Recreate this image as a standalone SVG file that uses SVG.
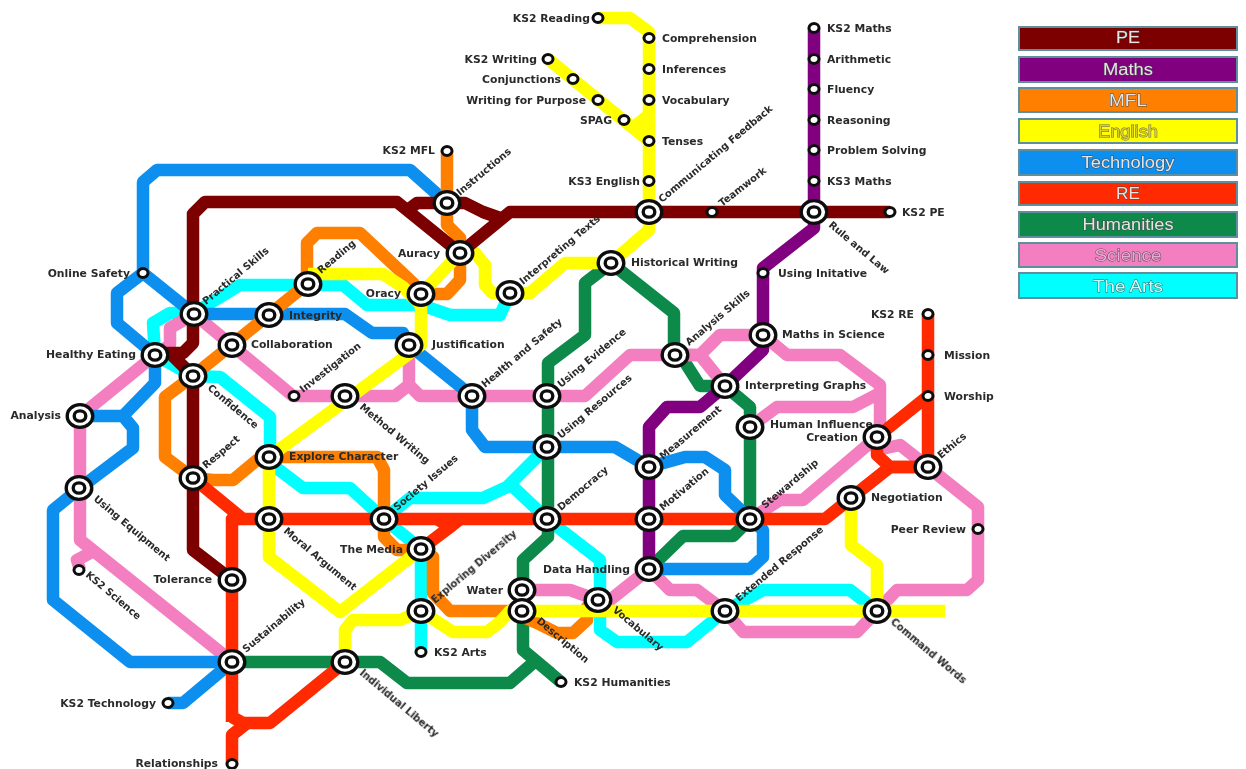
<svg xmlns="http://www.w3.org/2000/svg" width="1246" height="769" viewBox="0 0 1246 769">
<style>
.l{fill:none;stroke-width:12.5;stroke-linejoin:round;stroke-linecap:butt}
.pe{stroke:#7b0000}.ma{stroke:#800080}.mf{stroke:#ff7f00}.en{stroke:#ffff00}.te{stroke:#0a8fef}.re{stroke:#ff2a00}.hu{stroke:#0a8a4a}.sc{stroke:#f47fc0}.ar{stroke:#00ffff}
text{font-family:"DejaVu Sans","Liberation Sans",sans-serif;font-size:10.8px;font-weight:700;fill:#2a2a2a}
text[transform]{font-size:10px}
.e{text-anchor:end}
.lg rect{stroke:#5f8f9f;stroke-width:2}
.lg text{font-family:"Liberation Sans",Arial,sans-serif;font-size:16px;font-weight:400;text-anchor:middle;fill:#e4e4e4;stroke:#4a4a4a;stroke-width:.9;paint-order:stroke}
</style>
<defs>
<filter id="soft" x="-2%" y="-2%" width="104%" height="104%"><feGaussianBlur stdDeviation="0.55"/></filter>
<g id="b"><ellipse rx="12.8" ry="11.4" fill="#fff" stroke="#111" stroke-width="3.4"/><ellipse rx="5.8" ry="5.1" fill="#fff" stroke="#111" stroke-width="3.4"/></g>
<g id="s"><ellipse rx="5" ry="4.4" fill="#fff" stroke="#111" stroke-width="3"/></g>
</defs>
<rect width="1246" height="769" fill="#fff"/>
<g filter="url(#soft)">
<g id="connectors">
<path class="l ar" d="M421 652V549L384 519L350 488H303L270 463V417L220 377L193 376L155 355L153 323L170 313H194L240 285H343L367 305H421L450 315H500L510 293"/>
<path class="l ar" d="M384 519L410 498H483L507 487L547 447"/>
<path class="l ar" d="M507 481L547 519L600 560V630L617 642H687L725 611L763 590H850L877 611"/>
<path class="l hu" d="M611 263L585 283V335L548 363V519V537L523 560V650L561 682"/>
<path class="l hu" d="M533 663L510 683H407L380 662H232"/>
<path class="l hu" d="M611 263L674 313V345L700 386H725L750 407V519L733 536H683L649 569"/>
<path class="l sc" d="M80 570L77 560L90 553M80 416V540L220 652L232 662"/>
<path class="l sc" d="M80 416L155 355L170 345V328L194 314L293 396H345H395L409 385V345V385L420 396H585L630 355H675H700L720 335H763L787 355H840L880 385V437"/>
<path class="l sc" d="M675 355H700L725 386"/>
<path class="l sc" d="M880 393L853 407H777L750 427"/>
<path class="l sc" d="M877 437L803 500H780L750 519"/>
<path class="l sc" d="M877 450L900 445L928 467L978 507V580L967 590H897L877 611L857 632H743L725 611L697 590H670L649 569L610 600H598L570 590H522"/>
<path class="l te" d="M447 203L410 170H157L143 182V273L194 314H345L372 333H403L409 345L472 396V430L485 447H615L649 467L685 457H705L725 470V495L750 519L763 530V557L750 569H649"/>
<path class="l te" d="M143 273L117 293V323L155 355V383L123 416H80H123L133 428V448L80 488L53 510V600L130 662H232L183 703H168"/>
<path class="l mf" d="M447 151V225L460 238V280L447 294H421"/>
<path class="l mf" d="M421 294L413 283L360 233H317L307 243V284L193 376L165 397V457L193 478L213 480H233L257 460L269 457H377L384 470V537L397 550H421L433 557V593L450 611H510L537 623L557 633H573L587 620V607L598 600"/>
<path class="l en" d="M598 18H630L649 32V230L611 263H565L530 293H492L485 285V265L475 253H460"/>
<path class="l en" d="M548 59L649 141M630 130L649 115"/>
<path class="l en" d="M460 253L421 294V345L269 457V557L340 612L421 549"/>
<path class="l en" d="M308 274H383L403 287L421 305"/>
<path class="l en" d="M345 662V630L353 620H400L421 611L453 632H487L500 622L510 611H945"/>
<path class="l en" d="M851 498V545L877 565V611"/>
<path class="l re" d="M928 314V467H890L877 455V437L928 396"/>
<path class="l re" d="M928 467H890L851 498L825 519H232V722"/>
<path class="l re" d="M193 478L243 519"/>
<path class="l re" d="M232 717L243 723H270L345 662"/>
<path class="l re" d="M247 723L232 735V764"/>
<path class="l re" d="M437 519L450 527L421 549M450 527L460 519"/>
<path class="l ma" d="M814 28V228L763 268V350L725 386L700 407H667L649 427V569"/>
<path class="l pe" d="M890 212H510L460 253L397 202H205L193 214V343L183 353H155"/>
<path class="l pe" d="M170 353L193 376V550L232 580"/>
<path class="l pe" d="M405 212L417 203H447H465L483 212L500 218"/>
</g>
<g id="n1"><use href="#s" x="598" y="18"/><text class="e" x="590" y="22">KS2 Reading</text></g>
<g id="n2"><use href="#s" x="649" y="38"/><text x="662" y="42">Comprehension</text></g>
<g id="n3"><use href="#s" x="649" y="69"/><text x="662" y="73">Inferences</text></g>
<g id="n4"><use href="#s" x="649" y="100"/><text x="662" y="104">Vocabulary</text></g>
<g id="n5"><use href="#s" x="649" y="141"/><text x="662" y="145">Tenses</text></g>
<g id="n6"><use href="#s" x="649" y="181"/><text class="e" x="640" y="185">KS3 English</text></g>
<g id="n7"><use href="#s" x="548" y="59"/><text class="e" x="537" y="63">KS2 Writing</text></g>
<g id="n8"><use href="#s" x="573" y="79"/><text class="e" x="561" y="83">Conjunctions</text></g>
<g id="n9"><use href="#s" x="598" y="100"/><text class="e" x="586" y="104">Writing for Purpose</text></g>
<g id="n10"><use href="#s" x="624" y="120"/><text class="e" x="612" y="124">SPAG</text></g>
<g id="n11"><use href="#s" x="814" y="28"/><text x="827" y="32">KS2 Maths</text></g>
<g id="n12"><use href="#s" x="814" y="59"/><text x="827" y="63">Arithmetic</text></g>
<g id="n13"><use href="#s" x="814" y="89"/><text x="827" y="93">Fluency</text></g>
<g id="n14"><use href="#s" x="814" y="120"/><text x="827" y="124">Reasoning</text></g>
<g id="n15"><use href="#s" x="814" y="150"/><text x="827" y="154">Problem Solving</text></g>
<g id="n16"><use href="#s" x="814" y="181"/><text x="827" y="185">KS3 Maths</text></g>
<g id="n17"><use href="#s" x="890" y="212"/><text x="902" y="216">KS2 PE</text></g>
<g id="n18"><use href="#s" x="712" y="212"/><text transform="translate(722 207) rotate(-38)">Teamwork</text></g>
<g id="n19"><use href="#s" x="447" y="151"/><text class="e" x="435" y="154">KS2 MFL</text></g>
<g id="n20"><use href="#s" x="143" y="273"/><text class="e" x="130" y="277">Online Safety</text></g>
<g id="n21"><use href="#s" x="294" y="396"/><text transform="translate(303 393) rotate(-38)">Investigation</text></g>
<g id="n22"><use href="#s" x="763" y="273"/><text x="778" y="277">Using Initative</text></g>
<g id="n23"><use href="#s" x="928" y="314"/><text class="e" x="914" y="318">KS2 RE</text></g>
<g id="n24"><use href="#s" x="928" y="355"/><text x="944" y="359">Mission</text></g>
<g id="n25"><use href="#s" x="928" y="396"/><text x="944" y="400">Worship</text></g>
<g id="n26"><use href="#s" x="978" y="529"/><text class="e" x="966" y="533">Peer Review</text></g>
<g id="n27"><use href="#s" x="79" y="570"/><text transform="translate(85 576) rotate(40)">KS2 Science</text></g>
<g id="n28"><use href="#s" x="168" y="703"/><text class="e" x="156" y="707">KS2 Technology</text></g>
<g id="n29"><use href="#s" x="232" y="764"/><text class="e" x="218" y="767">Relationships</text></g>
<g id="n30"><use href="#s" x="421" y="652"/><text x="434" y="656">KS2 Arts</text></g>
<g id="n31"><use href="#s" x="561" y="682"/><text x="574" y="686">KS2 Humanities</text></g>
<g id="n32"><use href="#b" x="447" y="203"/><text transform="translate(460 196) rotate(-40)">Instructions</text></g>
<g id="n33"><use href="#b" x="460" y="253"/><text class="e" x="440" y="257">Auracy</text></g>
<g id="n34"><use href="#b" x="421" y="294"/><text class="e" x="401" y="297">Oracy</text></g>
<g id="n35"><use href="#b" x="308" y="284"/><text transform="translate(321 274) rotate(-40)">Reading</text></g>
<g id="n36"><use href="#b" x="194" y="314"/><text transform="translate(206 305) rotate(-40)">Practical Skills</text></g>
<g id="n37"><use href="#b" x="269" y="315"/><text x="289" y="319">Integrity</text></g>
<g id="n38"><use href="#b" x="232" y="345"/><text x="251" y="348">Collaboration</text></g>
<g id="n39"><use href="#b" x="155" y="355"/><text class="e" x="136" y="358">Healthy Eating</text></g>
<g id="n40"><use href="#b" x="193" y="376"/><text transform="translate(207 389) rotate(40)">Confidence</text></g>
<g id="n41"><use href="#b" x="409" y="345"/><text x="432" y="348">Justification</text></g>
<g id="n42"><use href="#b" x="345" y="396"/><text transform="translate(359 408) rotate(40)">Method Writing</text></g>
<g id="n43"><use href="#b" x="472" y="396"/><text transform="translate(485 388) rotate(-40)">Health and Safety</text></g>
<g id="n44"><use href="#b" x="547" y="396"/><text transform="translate(561 388) rotate(-40)">Using Evidence</text></g>
<g id="n45"><use href="#b" x="547" y="447"/><text transform="translate(561 439) rotate(-40)">Using Resources</text></g>
<g id="n46"><use href="#b" x="80" y="416"/><text class="e" x="61" y="419">Analysis</text></g>
<g id="n47"><use href="#b" x="193" y="478"/><text transform="translate(206 469) rotate(-40)">Respect</text></g>
<g id="n48"><use href="#b" x="269" y="457"/><text x="289" y="460">Explore Character</text></g>
<g id="n49"><use href="#b" x="79" y="488"/><text transform="translate(93 500) rotate(40)">Using Equipment</text></g>
<g id="n50"><use href="#b" x="269" y="519"/><text transform="translate(283 532) rotate(40)">Moral Argument</text></g>
<g id="n51"><use href="#b" x="384" y="519"/><text transform="translate(397 511) rotate(-40)">Society Issues</text></g>
<g id="n52"><use href="#b" x="421" y="549"/><text class="e" x="403" y="553">The Media</text></g>
<g id="n53"><use href="#b" x="547" y="519"/><text transform="translate(561 511) rotate(-40)">Democracy</text></g>
<g id="n54"><use href="#b" x="649" y="467"/><text transform="translate(663 460) rotate(-40)">Measurement</text></g>
<g id="n55"><use href="#b" x="649" y="519"/><text transform="translate(663 511) rotate(-40)">Motivation</text></g>
<g id="n56"><use href="#b" x="750" y="519"/><text transform="translate(765 509) rotate(-40)">Stewardship</text></g>
<g id="n57"><use href="#b" x="649" y="569"/><text class="e" x="630" y="573">Data Handling</text></g>
<g id="n58"><use href="#b" x="522" y="590"/><text class="e" x="503" y="594">Water</text></g>
<g id="n59"><use href="#b" x="522" y="611"/><text transform="translate(536 622) rotate(40)">Description</text></g>
<g id="n60"><use href="#b" x="598" y="600"/><text transform="translate(612 611) rotate(40)">Vocabulary</text></g>
<g id="n61"><use href="#b" x="725" y="611"/><text transform="translate(739 602) rotate(-40)">Extended Response</text></g>
<g id="n62"><use href="#b" x="877" y="611"/><text transform="translate(890 623) rotate(40)">Command Words</text></g>
<g id="n63"><use href="#b" x="421" y="611"/><text transform="translate(435 604) rotate(-40)">Exploring Diversity</text></g>
<g id="n64"><use href="#b" x="232" y="580"/><text class="e" x="212" y="583">Tolerance</text></g>
<g id="n65"><use href="#b" x="232" y="662"/><text transform="translate(246 653) rotate(-40)">Sustainability</text></g>
<g id="n66"><use href="#b" x="345" y="662"/><text transform="translate(359 674) rotate(40)">Individual Liberty</text></g>
<g id="n67"><use href="#b" x="510" y="293"/><text transform="translate(523 285) rotate(-40)">Interpreting Texts</text></g>
<g id="n68"><use href="#b" x="611" y="263"/><text x="631" y="266">Historical Writing</text></g>
<g id="n69"><use href="#b" x="649" y="212"/><text transform="translate(662 203) rotate(-40)">Communicating Feedback</text></g>
<g id="n70"><use href="#b" x="814" y="212"/><text transform="translate(828 226) rotate(40)">Rule and Law</text></g>
<g id="n71"><use href="#b" x="675" y="355"/><text transform="translate(689 346) rotate(-40)">Analysis Skills</text></g>
<g id="n72"><use href="#b" x="725" y="386"/><text x="745" y="389">Interpreting Graphs</text></g>
<g id="n73"><use href="#b" x="750" y="427"/><text x="770" y="428">Human Influence</text></g>
<g id="n74"><use href="#b" x="763" y="335"/><text x="782" y="338">Maths in Science</text></g>
<g id="n75"><use href="#b" x="877" y="437"/><text class="e" x="858" y="441">Creation</text></g>
<g id="n76"><use href="#b" x="928" y="467"/><text transform="translate(941 459) rotate(-40)">Ethics</text></g>
<g id="n77"><use href="#b" x="851" y="498"/><text x="871" y="501">Negotiation</text></g>
</g>
<g id="legend" class="lg" filter="url(#soft)">
<rect x="1019" y="27" width="218" height="23" fill="#7b0000"/><text x="1128" y="43" textLength="24" lengthAdjust="spacingAndGlyphs">PE</text>
<rect x="1019" y="57" width="218" height="25" fill="#800080"/><text x="1128" y="75" textLength="50" lengthAdjust="spacingAndGlyphs">Maths</text>
<rect x="1019" y="88" width="218" height="24" fill="#ff7f00"/><text x="1128" y="106" textLength="38" lengthAdjust="spacingAndGlyphs">MFL</text>
<rect x="1019" y="119" width="218" height="24" fill="#ffff00"/><text x="1128" y="137" textLength="60" lengthAdjust="spacingAndGlyphs" style="fill:#d8d020;stroke:#666">English</text>
<rect x="1019" y="150" width="218" height="25" fill="#0a8fef"/><text x="1128" y="168" textLength="93" lengthAdjust="spacingAndGlyphs">Technology</text>
<rect x="1019" y="182" width="218" height="23" fill="#ff2a00"/><text x="1128" y="199" textLength="24" lengthAdjust="spacingAndGlyphs">RE</text>
<rect x="1019" y="212" width="218" height="25" fill="#0a8a4a"/><text x="1128" y="230" textLength="91" lengthAdjust="spacingAndGlyphs">Humanities</text>
<rect x="1019" y="243" width="218" height="24" fill="#f47fc0"/><text x="1128" y="261" textLength="67" lengthAdjust="spacingAndGlyphs" style="fill:#e0b0d0;stroke:#6a3f60">Science</text>
<rect x="1019" y="273" width="218" height="25" fill="#00ffff"/><text x="1128" y="292" textLength="70" lengthAdjust="spacingAndGlyphs" style="fill:#d0ffff;stroke:#406060">The Arts</text>
</g>
</svg>
